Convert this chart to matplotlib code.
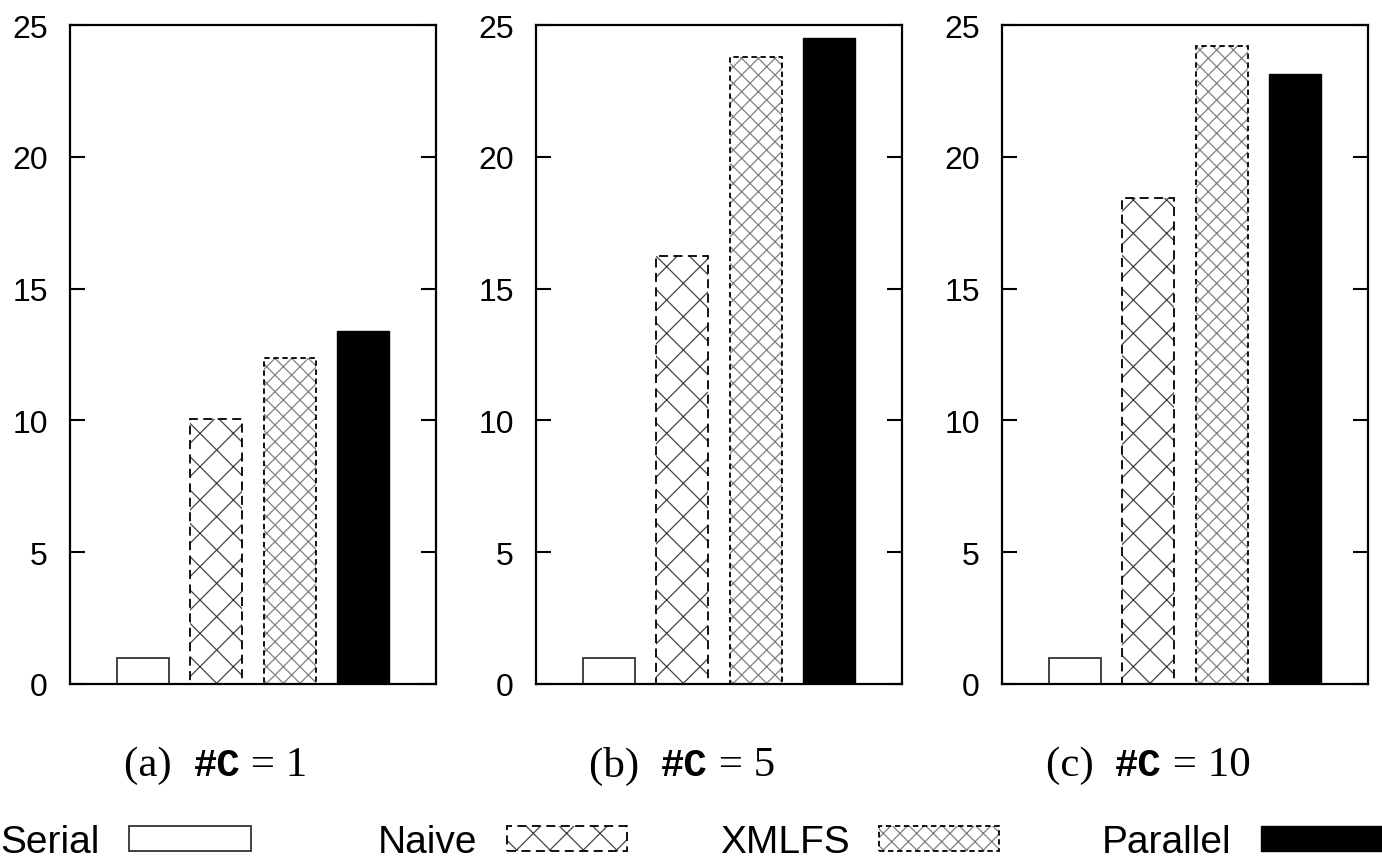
import matplotlib.pyplot as plt
from matplotlib.legend_handler import HandlerTuple

plt.rcParams['font.family'] = ['Liberation Sans', 'DejaVu Sans']
plt.rcParams['hatch.linewidth'] = 0.9

metodos = ["Serial", "Naive", "XMLFS", "Parallel"]
paineis = ["(a)", "(b)", "(c)"]
num_c = [1, 5, 10]
serial = [1.0, 1.0, 1.0]
naive = [10.05, 16.25, 18.45]
xmlfs = [12.35, 23.8, 24.2]
parallel = [13.4, 24.5, 23.15]

W, H = 1382, 862
fig = plt.figure(figsize=(W / 100, H / 100), dpi=100)
renderer = fig.canvas.get_renderer()

esquerdas = [70, 536, 1002]
largura_ax = 366
pos = [1, 2, 3, 4]
larg = 0.71

for i, l in enumerate(esquerdas):
    ax = fig.add_axes([l / W, 177 / H, largura_ax / W, 659 / H])
    # serial
    b_ser = ax.bar(pos[0], serial[i], larg, color="white", edgecolor="#333333", linewidth=1.3)
    # naive: hachura + contorno tracejado
    h_nai = ax.bar(pos[1], naive[i], larg, color="white", edgecolor="#444444", hatch="x", linewidth=0)
    e_nai = ax.bar(pos[1], naive[i], larg, fill=False, edgecolor="black", linewidth=1.3, linestyle=(0, (5, 3)))
    # xmlfs
    h_xml = ax.bar(pos[2], xmlfs[i], larg, color="white", edgecolor="#808080", hatch="xx", linewidth=0)
    e_xml = ax.bar(pos[2], xmlfs[i], larg, fill=False, edgecolor="black", linewidth=1.3, linestyle=(0, (3, 2)))
    # parallel
    b_par = ax.bar(pos[3], parallel[i], larg, color="black", edgecolor="black", linewidth=1)

    ax.set_xlim(0, 5)
    ax.set_ylim(0, 25)
    ax.set_yticks(range(0, 26, 5))
    ax.set_xticks([])
    ax.tick_params(axis="y", direction="in", length=11, width=1.5, right=True, labelsize=23, pad=16)
    for s in ax.spines.values():
        s.set_linewidth(1.6)

    # legenda do painel: (a) #C = 1, com #C em fonte mono
    partes = [(paineis[i] + "  ", "Liberation Serif", "normal"),
              ("#C", "Liberation Mono", "bold"),
              (" = " + str(num_c[i]), "Liberation Serif", "normal")]
    textos = [fig.text(0, 1 - 766 / H, p, family=f, weight=w, fontsize=31, va="center", ha="left")
              for p, f, w in partes]
    textos[1].set_fontsize(28)
    larguras = [t.get_window_extent(renderer).width for t in textos]
    x = (l + 146) - sum(larguras) / 2
    for t, lw in zip(textos, larguras):
        t.set_x(x / W)
        x += lw

handles = [b_ser.patches[0], (h_nai.patches[0], e_nai.patches[0]),
           (h_xml.patches[0], e_xml.patches[0]), b_par.patches[0]]
inicio_x = [0, 378, 720, 1102]
comprimento = [3.15, 3.1, 3.1, 7]

for h, nome, x0, cl in zip(handles, metodos, inicio_x, comprimento):
    fig.legend([h], [nome], loc="center left", bbox_to_anchor=(x0 / W, 1 - 843 / H),
               frameon=False, markerfirst=False, fontsize=28, handlelength=cl,
               handleheight=0.6, handletextpad=0.75, borderpad=0, borderaxespad=0,
               handler_map={tuple: HandlerTuple(ndivide=1, pad=0)})

fig.savefig("out.png", dpi=100)
